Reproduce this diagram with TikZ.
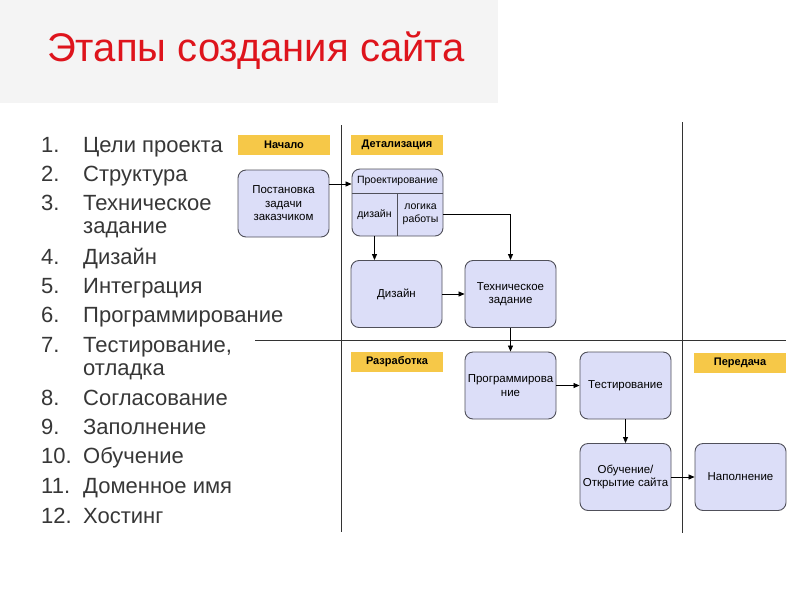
\documentclass[tikz,border=0pt]{standalone}
\usepackage{fontspec}
\setmainfont{Liberation Sans}
\usetikzlibrary{arrows.meta}
\definecolor{titlered}{RGB}{222,20,28}
\definecolor{titlebg}{RGB}{244,244,244}
\definecolor{lblyellow}{RGB}{246,200,72}
\definecolor{boxfill}{RGB}{220,222,248}
\definecolor{boxline}{RGB}{80,80,90}
\definecolor{listgray}{RGB}{55,55,55}
\tikzset{
  procbox/.style={draw=boxline, line width=0.9pt, fill=boxfill, rounded corners=8pt,
    minimum width=91pt, minimum height=67pt, align=center, font=\fontsize{11.5}{13.5}\selectfont, inner sep=1pt},
  small/.style={font=\fontsize{10.5}{12.5}\selectfont, inner sep=0pt, align=center},
  lane/.style={fill=lblyellow, minimum width=92pt, minimum height=20pt, inner sep=0pt,
    font=\bfseries\fontsize{11}{13}\selectfont},
  sep/.style={draw=black!80, line width=0.8pt},
  arr/.style={draw=black, line width=0.7pt, -{Triangle[length=6pt,width=5pt]}},
  item/.style={anchor=base west, font=\fontsize{22}{25}\selectfont, text=listgray, inner sep=0pt},
  num/.style={anchor=base west, font=\fontsize{22}{25}\selectfont, text=listgray, inner sep=0pt}
}
\begin{document}
\begin{tikzpicture}[x=1pt,y=-1pt]
\useasboundingbox (0,0) rectangle (800,592);
\fill[white] (0,0) rectangle (800,592);
\fill[titlebg] (0,0) rectangle (498,103);
\node[anchor=base west, text=titlered, font=\fontsize{40}{44}\selectfont, inner sep=0pt] (title) at (47,61) {Этапы создания сайта};

% list
\foreach \n/\y/\t in {1./144/Цели проекта, 2./173/Структура, 3./202/Техническое, 4./256/Дизайн, 5./285/Интеграция, 6./314/Программирование, 7./344/{Тестирование,}, 8./397/Согласование, 9./426/Заполнение, 10./455/Обучение, 11./485/Доменное имя, 12./515/Хостинг}{
  \node[num] (n\n) at (41,\y+8) {\n};
  \node[item] (t\n) at (83,\y+8) {\t};
}
\node[item] (t3b) at (83,233) {задание};
\node[item] (t7b) at (83,375) {отладка};

% lane separators
\coordinate (v1a) at (341,125); \coordinate (v1b) at (341,532);
\coordinate (v2a) at (682,122); \coordinate (v2b) at (682,533);
\coordinate (h1a) at (255,340); \coordinate (h1b) at (786,340);
\draw[sep] (v1a) -- (v1b);
\draw[sep] (v2a) -- (v2b);
\draw[sep] (h1a) -- (h1b);

% lane labels
\node[lane] (lnach) at (284,145) {Начало};
\node[lane] (ldet) at (397,145) {Детализация};
\node[lane] (lraz) at (397,362) {Разработка};
\node[lane] (lper) at (740,362.5) {Передача};

% boxes
\node[procbox] (post) at (283.5,203.5) {Постановка\\задачи\\заказчиком};
\node[procbox] (proj) at (397.5,202.5) {};
\draw[boxline, line width=0.9pt] (proj.west |- 0,193) -- (proj.east |- 0,193);
\draw[boxline, line width=0.9pt] (397,193) -- (proj.south -| 397,0);
\node[small] (projt) at (397.5,181) {Проектирование};
\node[small] (dzl) at (374.5,214.5) {дизайн};
\node[small] (lgk) at (420.5,214.5) {логика\\работы};

\node[procbox] (diz) at (396.5,294) {Дизайн};
\node[procbox] (tz) at (510.5,294) {Техническое\\задание};
\node[procbox] (prog) at (510.5,385.5) {Программирова\\ние};
\node[procbox] (test) at (625.5,385.5) {Тестирование};
\node[procbox] (obuch) at (625.5,477) {Обучение/\\Открытие сайта};
\node[procbox] (nap) at (740.5,477) {Наполнение};

% connectors
\coordinate (a1) at ([yshift=19.5pt]post.east);
\draw[arr] (a1) -- (a1 -| proj.west);
\draw[arr] (proj.south -| dzl) -- (diz.north -| dzl);
\draw[arr] (proj.east |- lgk) -| (tz.north);
\draw[arr] (diz) -- (tz);
\draw[arr] (tz) -- (prog);
\draw[arr] (prog) -- (test);
\draw[arr] (test) -- (obuch);
\draw[arr] (obuch) -- (nap);
\end{tikzpicture}
\end{document}
